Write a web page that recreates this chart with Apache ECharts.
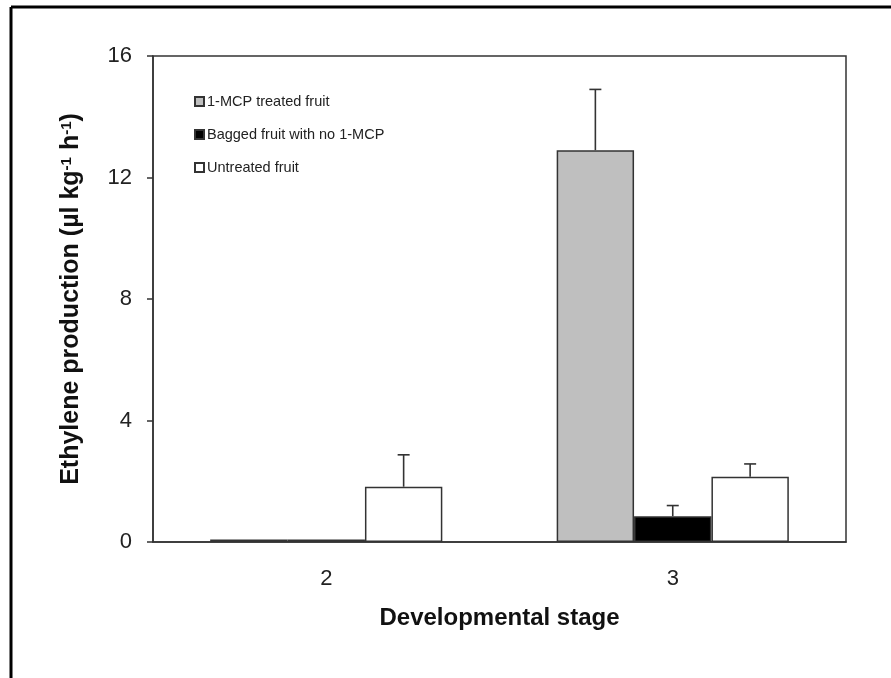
<!DOCTYPE html>
<html>
<head>
<meta charset="utf-8">
<script src="https://cdn.jsdelivr.net/npm/echarts@6/dist/echarts.min.js"></script>
<style>html,body{margin:0;padding:0;background:#fff;}#chart{width:891px;height:678px;}</style>
</head>
<body>
<div id="chart"></div>
<script>
var categories = ['2', '3'];
var seriesNames = ['1-MCP treated fruit', 'Bagged fruit with no 1-MCP', 'Untreated fruit'];
var mcpValues = [0.08, 12.9];
var mcpErrors = [0, 2.0];
var baggedValues = [0.08, 0.85];
var baggedErrors = [0, 0.35];
var untreatedValues = [1.82, 2.15];
var untreatedErrors = [1.05, 0.42];
var yTicks = [0, 4, 8, 12, 16];

var values = [mcpValues, baggedValues, untreatedValues];
var errors = [mcpErrors, baggedErrors, untreatedErrors];
var fills = ['#bfbfbf', '#000000', '#ffffff'];
var gapRatio = 0.33;
var FONT = 'Liberation Sans, Arial';

var chart = echarts.init(document.getElementById('chart'));

function errRender(k) {
  return function (params, api) {
    var err = api.value(2);
    if (!err) return null;
    var cat = api.value(0), val = api.value(1);
    var band = api.size([1, 0])[0];
    var bw = band * (1 - gapRatio) / 3;
    var p0 = api.coord([cat, val]);
    var p1 = api.coord([cat, val + err]);
    var x = p0[0] + (k - 1) * bw;
    var st = { stroke: '#333', lineWidth: 1.6 };
    return {
      type: 'group',
      children: [
        { type: 'line', shape: { x1: x, y1: p0[1], x2: x, y2: p1[1] }, style: st },
        { type: 'line', shape: { x1: x - 6, y1: p1[1], x2: x + 6, y2: p1[1] }, style: st }
      ]
    };
  };
}

var series = [];
for (var k = 0; k < 3; k++) {
  series.push({
    name: seriesNames[k],
    type: 'bar',
    data: values[k],
    barGap: '0%',
    barCategoryGap: (gapRatio * 100) + '%',
    itemStyle: { color: fills[k], borderColor: '#333', borderWidth: 1.5 },
    z: 2
  });
}
for (var k2 = 0; k2 < 3; k2++) {
  series.push({
    type: 'custom',
    renderItem: errRender(k2),
    data: categories.map(function (c, i) { return [i, values[k2][i], errors[k2][i]]; }),
    encode: { x: 0, y: 1 },
    z: 5,
    silent: true
  });
}

chart.setOption({
  animation: false,
  backgroundColor: '#fff',
  grid: { left: 153, top: 56, right: 45, bottom: 136, show: true, borderColor: '#333', borderWidth: 1.5 },
  legend: {
    data: seriesNames,
    orient: 'vertical',
    left: 189,
    top: 89,
    itemWidth: 9,
    itemHeight: 9,
    itemGap: 18,
    icon: 'rect',
    textStyle: { fontFamily: FONT, fontSize: 14.5, color: '#222', padding: [0, 0, 0, -2] }
  },
  xAxis: {
    type: 'category',
    data: categories,
    axisTick: { show: false },
    axisLine: { lineStyle: { color: '#333', width: 1.5 } },
    axisLabel: { fontFamily: FONT, fontSize: 22, color: '#222', margin: 26 },
    name: 'Developmental stage',
    nameLocation: 'middle',
    nameGap: 64,
    nameTextStyle: { fontFamily: FONT, fontSize: 24, fontWeight: 'bold', color: '#111' }
  },
  yAxis: {
    type: 'value',
    min: yTicks[0],
    max: yTicks[yTicks.length - 1],
    interval: 4,
    splitLine: { show: false },
    axisLine: { show: true, lineStyle: { color: '#333', width: 1.5 } },
    axisTick: { show: true, length: 6, lineStyle: { color: '#333', width: 1.5 } },
    axisLabel: { fontFamily: FONT, fontSize: 22, color: '#222', margin: 21 },
    name: 'Ethylene production (µl kg{sup|-1} h{sup|-1})',
    nameLocation: 'middle',
    nameRotate: 90,
    nameGap: 69,
    nameTextStyle: {
      fontFamily: FONT, fontSize: 25, fontWeight: 'bold', color: '#111',
      rich: { sup: { fontFamily: FONT, fontSize: 15, fontWeight: 'bold', color: '#111', verticalAlign: 'top', padding: [0, 0, 10, 0] } }
    }
  },
  graphic: [
    { type: 'line', shape: { x1: 11, y1: 7, x2: 11, y2: 678 }, style: { stroke: '#000', lineWidth: 3 } },
    { type: 'line', shape: { x1: 11, y1: 7, x2: 891, y2: 7 }, style: { stroke: '#000', lineWidth: 3 } }
  ],
  series: series
});
</script>
</body>
</html>
